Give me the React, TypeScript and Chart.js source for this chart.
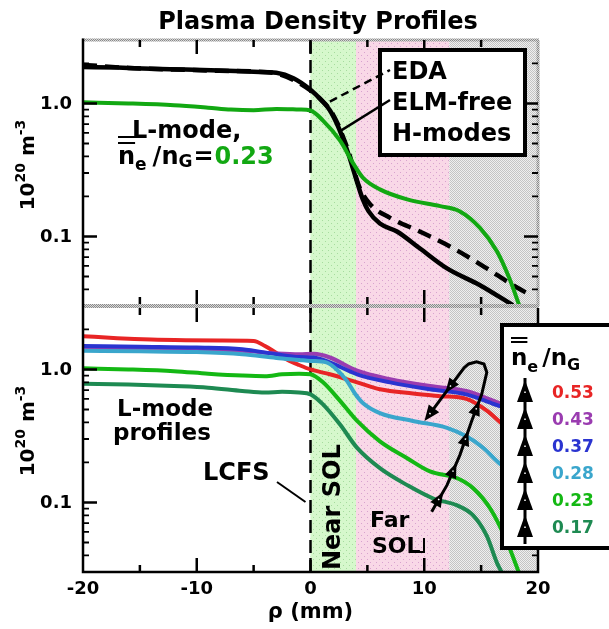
import React, { useEffect, useRef } from 'react';
import { Chart, registerables } from 'chart.js';

Chart.register(...registerables);

const FAM = '"DejaVu Sans", sans-serif';
Chart.defaults.font.family = FAM;

// ---------- axis / layout values ----------
const xMin = -20;
const xMax = 20;
const xStep = 10;
const panelMin = 0.03;
const panelMax = 3;
const yLabelValues = [1, 0.1];
const yLabelTexts = ['1.0', '0.1'];

// ---------- shaded regions (mm) ----------
const nearSol = [0, 4];
const farSol = [4, 12.2];
const wallZone = [12.2, 20];

// ---------- top panel: H-modes and L-mode ----------
const elmFreeX = [-20, -17, -14, -11, -8, -5, -3, -1.5, 0, 1, 1.7, 2.4, 2.9, 3.4, 3.8, 4.2, 4.6, 5.1, 6.1, 7.6, 9.6, 12, 14.9, 17.8];
const elmFreeY = [1.88, 1.86, 1.82, 1.8, 1.77, 1.73, 1.7, 1.55, 1.27, 1.05, 0.89, 0.68, 0.53, 0.4, 0.31, 0.24, 0.19, 0.155, 0.125, 0.109, 0.0815, 0.0575, 0.043, 0.0304];

const edaX = [-20, -16, -12, -8, -5, -3, -1.5, 0, 1, 1.7, 2.4, 2.9, 3.4, 3.8, 4.3, 5.2, 7, 9.6, 12.55, 15.5, 17.8, 19.4];
const edaY = [1.95, 1.85, 1.8, 1.76, 1.74, 1.68, 1.5, 1.25, 1.05, 0.9, 0.7, 0.55, 0.42, 0.32, 0.235, 0.176, 0.138, 0.109, 0.0815, 0.0575, 0.043, 0.036];

const lmodeTopX = [-20, -16, -12, -9, -7, -5, -3, -1, 0, 1.1, 2.6, 3.8, 4.6, 6.1, 8.5, 11.4, 13.1, 14.9, 16.4, 17.5, 18.4];
const lmodeTopY = [1.02, 1.0, 0.97, 0.93, 0.9, 0.89, 0.91, 0.9, 0.885, 0.743, 0.525, 0.349, 0.277, 0.226, 0.19, 0.169, 0.155, 0.116, 0.077, 0.048, 0.0295];

// ---------- bottom panel: L-mode density scan ----------
const densityLabels = ['0.53', '0.43', '0.37', '0.28', '0.23', '0.17'];
const densityColors = ['#e82525', '#9a3cb0', '#2a34d0', '#3aa6cc', '#14b814', '#1e8a52'];

const l053X = [-20, -17, -14, -11, -8, -5, -4, -3, -2, -1, 0, 1.7, 4.1, 6.1, 9, 11.4, 13.7, 15.5, 16.7, 17.5];
const l053Y = [1.78, 1.72, 1.68, 1.66, 1.65, 1.64, 1.5, 1.33, 1.18, 1.08, 1.0, 0.92, 0.8, 0.71, 0.66, 0.63, 0.6, 0.49, 0.4, 0.35];

const l043X = [-20, -15, -10, -6, -3, -1, 0.3, 1.7, 4.1, 7, 10.5, 13.7, 16.1, 17.5];
const l043Y = [1.45, 1.45, 1.42, 1.38, 1.32, 1.3, 1.31, 1.23, 0.98, 0.845, 0.75, 0.69, 0.58, 0.52];

const l037X = [-20, -15, -10, -6, -3, -1, 0.3, 1.7, 4.1, 7, 10.5, 13.7, 16.1, 17.5];
const l037Y = [1.5, 1.48, 1.46, 1.42, 1.3, 1.24, 1.23, 1.13, 0.92, 0.8, 0.71, 0.65, 0.55, 0.5];

const l028X = [-20, -15, -10, -6, -3, -1, 0, 1.4, 2.3, 3.2, 3.9, 4.6, 6.1, 9, 12, 13.7, 15.2, 16.4, 17.5];
const l028Y = [1.38, 1.37, 1.35, 1.3, 1.22, 1.18, 1.16, 1.13, 1.0, 0.82, 0.66, 0.56, 0.47, 0.41, 0.364, 0.314, 0.257, 0.204, 0.17];

const l023X = [-20, -16, -12, -9, -6, -4, -2.5, -1, 0, 1.1, 2.6, 4.1, 6.1, 8.5, 10.5, 12.9, 14.3, 15.8, 17.3, 18.3];
const l023Y = [1.02, 1.0, 0.97, 0.93, 0.9, 0.89, 0.92, 0.93, 0.92, 0.8, 0.58, 0.41, 0.288, 0.215, 0.171, 0.152, 0.128, 0.09, 0.05, 0.03];

const l017X = [-20, -16, -12, -9, -6, -4, -2.5, -1, 0, 1.1, 2.6, 4.1, 6.1, 8.5, 10.8, 12.9, 14.3, 15.5, 16.4, 16.8];
const l017Y = [0.78, 0.77, 0.75, 0.73, 0.69, 0.67, 0.68, 0.67, 0.65, 0.546, 0.385, 0.257, 0.181, 0.135, 0.107, 0.095, 0.08, 0.056, 0.035, 0.03];

// trend arrow (mm, density) in the bottom panel
const trendX = [10.65, 12.0, 13.14, 14.17, 15.05, 15.5, 15.25, 14.6, 13.9, 13.5];
const trendY = [0.085, 0.135, 0.228, 0.41, 0.65, 0.95, 1.1, 1.14, 1.1, 1.03];
const trendEndX = 10.7;
const trendEndY = 0.49;

const pts = (xs: number[], ys: number[]) => xs.map((x, i) => ({ x, y: ys[i] }));

function makePattern(base: string, dot: string, size: number, dots: number[][]) {
  const c = document.createElement('canvas');
  c.width = size;
  c.height = size;
  const g = c.getContext('2d')!;
  g.fillStyle = base;
  g.fillRect(0, 0, size, size);
  g.fillStyle = dot;
  dots.forEach(([x, y]) => g.fillRect(x, y, 1, 1));
  return g.createPattern(c, 'repeat')!;
}

type Run = { text: string; font: string; color?: string; dy?: number; gap?: number };
function runsWidth(ctx: CanvasRenderingContext2D, runs: Run[]) {
  let w = 0;
  for (const r of runs) {
    ctx.font = r.font;
    w += ctx.measureText(r.text).width + (r.gap || 0);
  }
  return w;
}
function drawRuns(ctx: CanvasRenderingContext2D, x: number, y: number, runs: Run[]) {
  let cx = x;
  const pos: number[] = [];
  for (const r of runs) {
    ctx.font = r.font;
    ctx.fillStyle = r.color || '#000';
    pos.push(cx);
    ctx.fillText(r.text, cx, y + (r.dy || 0));
    cx += ctx.measureText(r.text).width + (r.gap || 0);
  }
  return pos;
}

function arrowHead(ctx: CanvasRenderingContext2D, x: number, y: number, ang: number, len = 14, hw = 5.5) {
  ctx.save();
  ctx.translate(x, y);
  ctx.rotate(ang);
  ctx.beginPath();
  ctx.moveTo(len / 2, 0);
  ctx.lineTo(-len / 2, -hw);
  ctx.lineTo(-len / 2, hw);
  ctx.closePath();
  ctx.fillStyle = '#000';
  ctx.fill();
  ctx.fillStyle = '#fff';
  ctx.fillRect(-2, -0.75, 1.5, 1.5);
  ctx.restore();
}

export default function App() {
  const ref = useRef<HTMLCanvasElement>(null);

  useEffect(() => {
    const canvas = ref.current!;
    const pGreen = makePattern('#d6f8cc', '#a6dc9e', 6, [[1, 1], [4, 4]]);
    const pPink = makePattern('#f9d8e7', '#d8a2cf', 6, [[1, 1], [4, 4]]);
    const pGray = makePattern('#efefef', '#c4c4c4', 2, [[0, 0], [1, 1]]);
    const pBorder = makePattern('#d8d8d8', '#8a8a8a', 2, [[0, 0], [1, 1]]);

    const ANN = `bold 24px ${FAM}`;
    const ANN2 = `bold 23px ${FAM}`;

    const plugin = {
      id: 'panels',
      beforeDatasetsDraw(chart: any) {
        const { ctx, chartArea: a, scales } = chart;
        const xs = scales.x;
        const H = a.bottom - a.top;
        const zone = (r: number[], p: CanvasPattern) => {
          const x0 = xs.getPixelForValue(r[0]);
          const x1 = xs.getPixelForValue(r[1]);
          ctx.fillStyle = p;
          ctx.fillRect(x0, a.top, x1 - x0, H);
        };
        ctx.save();
        zone(nearSol, pGreen);
        zone(farSol, pPink);
        zone(wallZone, pGray);
        // LCFS dashed line
        const x0 = xs.getPixelForValue(0);
        ctx.strokeStyle = '#000';
        ctx.lineWidth = 2.5;
        ctx.setLineDash([13, 7]);
        ctx.beginPath();
        ctx.moveTo(x0, a.top);
        ctx.lineTo(x0, a.bottom);
        ctx.stroke();
        ctx.setLineDash([]);
        ctx.restore();
      },
      afterDatasetsDraw(chart: any) {
        const { ctx, chartArea: a, scales } = chart;
        const xs = scales.x;
        const yT = scales.yTop;
        const yB = scales.yBot;
        const L = a.left;
        const R = a.right;
        const sep = yT.getPixelForValue(panelMin);
        ctx.save();

        // ----- frames -----
        ctx.fillStyle = pBorder;
        ctx.fillRect(L - 1, a.top - 1.5, R - L + 2, 3);
        ctx.fillRect(L - 1, sep - 2, R - L + 2, 4);
        ctx.fillRect(R - 1.5, a.top, 3, sep - a.top);
        ctx.strokeStyle = '#000';
        ctx.lineWidth = 2.5;
        ctx.beginPath();
        ctx.moveTo(L, a.top - 1.5);
        ctx.lineTo(L, a.bottom);
        ctx.lineTo(R, a.bottom);
        ctx.lineTo(R, sep + 2);
        ctx.stroke();

        // ----- x ticks -----
        ctx.lineWidth = 2.5;
        for (let v = xMin + 5; v < xMax; v += 5) {
          const px = xs.getPixelForValue(v);
          const len = v % 10 === 0 ? 14 : 7;
          ctx.beginPath();
          ctx.moveTo(px, a.top); ctx.lineTo(px, a.top + len);
          ctx.moveTo(px, sep - 2); ctx.lineTo(px, sep - 2 - len);
          ctx.moveTo(px, sep + 2); ctx.lineTo(px, sep + 2 + len);
          ctx.moveTo(px, a.bottom); ctx.lineTo(px, a.bottom - len);
          ctx.stroke();
        }

        // ----- y ticks and labels -----
        const panels = [yT, yB];
        panels.forEach((ys: any) => {
          ctx.strokeStyle = '#000';
          for (let e = -2; e <= 0; e++) {
            for (let k = 1; k <= 9; k++) {
              const v = k * Math.pow(10, e);
              if (v <= panelMin * 1.001 || v >= panelMax * 0.999) continue;
              const py = ys.getPixelForValue(v);
              const len = k === 1 ? 14 : 6;
              ctx.lineWidth = k === 1 ? 2.5 : 1.8;
              ctx.beginPath();
              ctx.moveTo(L, py); ctx.lineTo(L + len, py);
              ctx.moveTo(R, py); ctx.lineTo(R - len, py);
              ctx.stroke();
            }
          }
          ctx.fillStyle = '#000';
          ctx.font = `bold 18px ${FAM}`;
          ctx.textAlign = 'right';
          ctx.textBaseline = 'middle';
          yLabelValues.forEach((v, i) => {
            ctx.fillText(yLabelTexts[i], L - 11, ys.getPixelForValue(v) + 1);
          });
          ctx.textAlign = 'left';
          ctx.textBaseline = 'alphabetic';
          // y-axis title
          const top = ys.getPixelForValue(panelMax);
          const bot = ys.getPixelForValue(panelMin);
          const yc = (top + bot) / 2 - 8;
          const runs: Run[] = [
            { text: '10', font: `bold 20px ${FAM}` },
            { text: '20', font: `bold 14px ${FAM}`, dy: -9 },
            { text: ' m', font: `bold 20px ${FAM}` },
            { text: '-3', font: `bold 14px ${FAM}`, dy: -9 },
          ];
          const w = runsWidth(ctx, runs);
          ctx.save();
          ctx.translate(34, yc);
          ctx.rotate(-Math.PI / 2);
          drawRuns(ctx, -w / 2, 0, runs);
          ctx.restore();
        });

        // ----- title -----
        ctx.fillStyle = '#000';
        ctx.font = `bold 24px ${FAM}`;
        ctx.textAlign = 'center';
        ctx.fillText('Plasma Density Profiles', 318, 29);
        ctx.textAlign = 'left';

        // ----- top panel annotations -----
        ctx.font = ANN;
        ctx.fillText('L-mode,', 132, 138);
        const sub = `bold 17px ${FAM}`;
        const p = drawRuns(ctx, 118, 164, [
          { text: 'n', font: ANN },
          { text: 'e', font: sub, dy: 6, gap: 6 },
          { text: '/n', font: ANN },
          { text: 'G', font: sub, dy: 3, gap: 1 },
          { text: '=', font: ANN, gap: 1 },
          { text: '0.23', font: ANN, color: '#12a812' },
        ]);
        ctx.font = ANN;
        const nW = ctx.measureText('n').width;
        ctx.strokeStyle = '#000';
        ctx.lineWidth = 2;
        ctx.beginPath();
        ctx.moveTo(p[0], 143); ctx.lineTo(p[0] + nW, 143);
        ctx.moveTo(p[0], 137); ctx.lineTo(p[0] + nW, 137);
        ctx.stroke();

        // legend box top
        ctx.fillStyle = '#fff';
        ctx.fillRect(380, 50, 145, 105);
        ctx.strokeStyle = '#000';
        ctx.lineWidth = 4;
        ctx.strokeRect(380, 50, 145, 105);
        ctx.fillStyle = '#000';
        ctx.font = ANN;
        ctx.fillText('EDA', 392, 79);
        ctx.fillText('ELM-free', 392, 110);
        ctx.fillText('H-modes', 392, 141);
        ctx.lineWidth = 2.5;
        ctx.setLineDash([8, 5]);
        ctx.beginPath();
        ctx.moveTo(xs.getPixelForValue(1.7), yT.getPixelForValue(0.9) - 8);
        ctx.lineTo(390, 70);
        ctx.stroke();
        ctx.setLineDash([]);
        ctx.beginPath();
        ctx.moveTo(xs.getPixelForValue(2.6), yT.getPixelForValue(0.62));
        ctx.lineTo(390, 100);
        ctx.stroke();

        // ----- bottom panel annotations -----
        ctx.fillStyle = '#000';
        ctx.font = ANN2;
        ctx.fillText('L-mode', 117, 416);
        ctx.fillText('profiles', 113, 440);
        ctx.font = `bold 24px ${FAM}`;
        ctx.fillText('LCFS', 203, 480);
        ctx.lineWidth = 2;
        ctx.beginPath();
        ctx.moveTo(277, 482);
        ctx.lineTo(xs.getPixelForValue(0) - 5, 502);
        ctx.stroke();
        // Near SOL (rotated)
        ctx.save();
        ctx.translate(xs.getPixelForValue(2.6), 570);
        ctx.rotate(-Math.PI / 2);
        ctx.font = `bold 24px ${FAM}`;
        ctx.fillText('Near SOL', 0, 0);
        ctx.restore();
        ctx.font = `bold 22px ${FAM}`;
        ctx.fillText('Far', 370, 527);
        ctx.fillText('SOL', 372, 553);
        ctx.lineWidth = 2;
        ctx.beginPath();
        ctx.moveTo(417, 552); ctx.lineTo(424, 552); ctx.lineTo(424, 538);
        ctx.stroke();

        // trend arrow
        const tp = trendX.map((x, i) => [xs.getPixelForValue(x), yB.getPixelForValue(trendY[i])]);
        const endP = [xs.getPixelForValue(trendEndX), yB.getPixelForValue(trendEndY)];
        ctx.strokeStyle = '#000';
        ctx.lineWidth = 3;
        ctx.beginPath();
        ctx.moveTo(tp[0][0], tp[0][1]);
        for (let i = 1; i < tp.length; i++) ctx.lineTo(tp[i][0], tp[i][1]);
        ctx.lineTo(endP[0], endP[1]);
        ctx.stroke();
        for (let i = 0; i < 4; i++) {
          const [x0, y0] = tp[i];
          const [x1, y1] = tp[i + 1];
          arrowHead(ctx, (x0 + x1) / 2, (y0 + y1) / 2, Math.atan2(y1 - y0, x1 - x0), 15, 6);
        }
        const last = tp[tp.length - 1];
        const angD = Math.atan2(endP[1] - last[1], endP[0] - last[0]);
        arrowHead(ctx, last[0] + (endP[0] - last[0]) * 0.45, last[1] + (endP[1] - last[1]) * 0.45, angD, 15, 6);
        arrowHead(ctx, endP[0] + 5 * Math.cos(angD), endP[1] + 5 * Math.sin(angD), angD, 16, 6.5);

        // legend box bottom
        ctx.fillStyle = '#fff';
        ctx.fillRect(502, 325, 115, 223);
        ctx.lineWidth = 4;
        ctx.strokeRect(502, 325, 115, 223);
        const big = `bold 23px ${FAM}`;
        const sm = `bold 17px ${FAM}`;
        const q = drawRuns(ctx, 511, 365, [
          { text: 'n', font: big },
          { text: 'e', font: `bold 16px ${FAM}`, dy: 7, gap: 4 },
          { text: '/n', font: big },
          { text: 'G', font: `bold 16px ${FAM}`, dy: 5 },
        ]);
        ctx.font = big;
        const nW2 = ctx.measureText('n').width;
        ctx.lineWidth = 1.8;
        ctx.beginPath();
        ctx.moveTo(q[0], 342); ctx.lineTo(q[0] + nW2, 342);
        ctx.moveTo(q[0], 338); ctx.lineTo(q[0] + nW2, 338);
        ctx.stroke();
        // arrow stack
        ctx.lineWidth = 3;
        ctx.beginPath();
        ctx.moveTo(525, 378); ctx.lineTo(525, 544);
        ctx.stroke();
        densityLabels.forEach((lab, i) => {
          const by = 398 + i * 27;
          arrowHead(ctx, 525, by - 7, -Math.PI / 2, 22, 8);
          ctx.font = sm;
          ctx.fillStyle = densityColors[i];
          ctx.fillText(lab, 552, by);
        });
        ctx.restore();
      },
    };

    const line = (label: string, xs: number[], ys: number[], axis: string, color: string, width: number, dash?: number[]) => ({
      label,
      data: pts(xs, ys),
      yAxisID: axis,
      borderColor: color,
      borderWidth: width,
      borderDash: dash || [],
      pointRadius: 0,
      fill: false,
      cubicInterpolationMode: 'monotone' as const,
      borderJoinStyle: 'round' as const,
    });

    const chart = new Chart(canvas, {
      type: 'line',
      data: {
        datasets: [
          line('L-mode 0.23', lmodeTopX, lmodeTopY, 'yTop', '#12a812', 4),
          line('EDA H-mode', edaX, edaY, 'yTop', '#000', 4.5, [14, 8]),
          line('ELM-free H-mode', elmFreeX, elmFreeY, 'yTop', '#000', 4.5),
          line(densityLabels[5], l017X, l017Y, 'yBot', densityColors[5], 4),
          line(densityLabels[4], l023X, l023Y, 'yBot', densityColors[4], 4),
          line(densityLabels[3], l028X, l028Y, 'yBot', densityColors[3], 4),
          line(densityLabels[2], l037X, l037Y, 'yBot', densityColors[2], 4),
          line(densityLabels[1], l043X, l043Y, 'yBot', densityColors[1], 4),
          line(densityLabels[0], l053X, l053Y, 'yBot', densityColors[0], 4),
        ],
      },
      options: {
        animation: false,
        responsive: false,
        maintainAspectRatio: false,
        layout: { padding: { left: 83, right: 71, top: 40, bottom: 0 } },
        plugins: { legend: { display: false }, tooltip: { enabled: false }, title: { display: false } },
        scales: {
          x: {
            type: 'linear',
            min: xMin,
            max: xMax,
            grid: { display: false, drawTicks: false },
            border: { display: false },
            ticks: { stepSize: xStep, color: '#000', font: { size: 18, weight: 'bold' }, padding: 7, maxRotation: 0, autoSkip: false },
            title: { display: true, text: 'ρ (mm)', color: '#000', font: { size: 21, weight: 'bold' }, padding: { top: 0, bottom: 4 } },
            afterFit: (s: any) => { s.height = 57; },
          },
          yTop: { type: 'logarithmic', display: false, min: panelMin / 100, max: panelMax },
          yBot: { type: 'logarithmic', display: false, min: panelMin, max: panelMax * 100 },
        },
      } as any,
      plugins: [plugin],
    });
    return () => chart.destroy();
  }, []);

  return (
    <div style={{ position: 'fixed', left: 0, top: 0, width: 609, height: 629, background: '#fff' }}>
      <canvas ref={ref} width={609} height={629} style={{ display: 'block', width: 609, height: 629 }} />
    </div>
  );
}
